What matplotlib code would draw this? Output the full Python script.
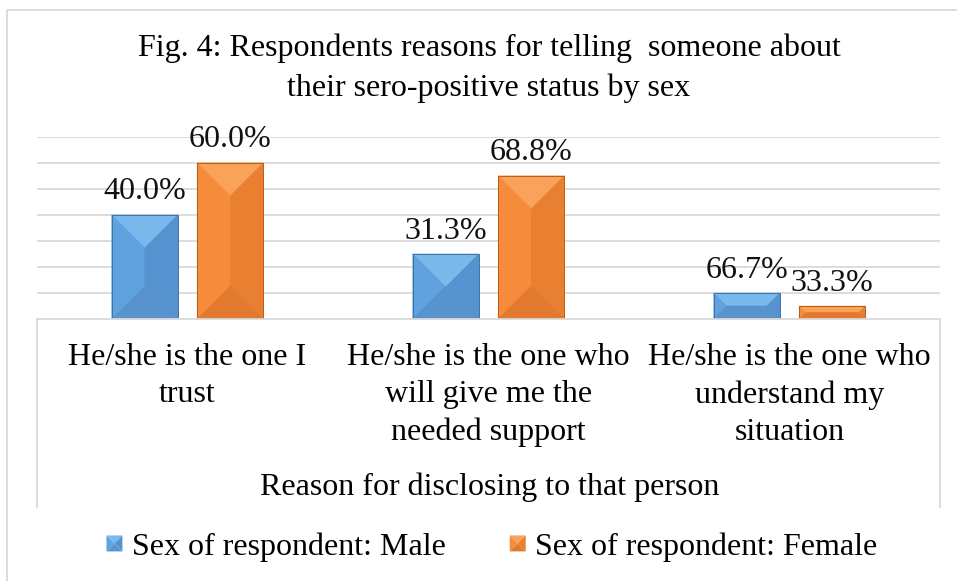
import matplotlib.pyplot as plt
import numpy as np
from decimal import Decimal, ROUND_HALF_UP
from matplotlib.patches import Polygon
from matplotlib.legend_handler import HandlerBase
from matplotlib.lines import Line2D

plt.rcParams['font.family'] = ['Liberation Serif', 'DejaVu Serif']

# respondents by reason (weighted counts)
reasons = ["He/she is the one I\ntrust",
           "He/she is the one who\nwill give me the\nneeded support",
           "He/she is the one who\nunderstand my\nsituation"]
male = [4, 2.5, 1]
female = [6, 5.5, 0.5]
series_names = ["Sex of respondent: Male", "Sex of respondent: Female"]

# face colours: top, left, right, bottom, edge
blue = ['#7ab9ec', '#5fa2df', '#5592d0', '#5893cd', '#40739f']
orange = ['#f8a25a', '#f68b3c', '#e97f31', '#e17a2f', '#b85e1e']


def pct_labels(a, b):
    out_a, out_b = [], []
    for x, y in zip(a, b):
        tot = x + y
        for v, out in ((x, out_a), (y, out_b)):
            p = Decimal(str(v * 100 / tot)).quantize(Decimal('0.1'), rounding=ROUND_HALF_UP)
            out.append(f"{p}%")
    return out_a, out_b


def bevel_faces(l, r, b, t):
    # hip-roof style split of a rectangle (pixel coords)
    w, h = r - l, t - b
    cx, cy = (l + r) / 2, (b + t) / 2
    TL, TR, BL, BR = (l, t), (r, t), (l, b), (r, b)
    if h >= w:
        p1, p2 = (cx, t - w / 2), (cx, b + w / 2)
        top = [TL, TR, p1]
        bot = [BL, BR, p2]
        left = [TL, p1, p2, BL]
        right = [TR, p1, p2, BR]
    else:
        p1, p2 = (l + h / 2, cy), (r - h / 2, cy)
        top = [TL, TR, p2, p1]
        bot = [BL, BR, p2, p1]
        left = [TL, p1, BL]
        right = [TR, p2, BR]
    return [top, left, right, bot]


def draw_bevel(ax, bars, cols):
    to_px = ax.transData
    to_data = ax.transData.inverted()
    for bar in bars:
        x0, y0 = bar.get_x(), bar.get_y()
        x1, y1 = x0 + bar.get_width(), y0 + bar.get_height()
        (l, b), (r, t) = to_px.transform([(x0, y0), (x1, y1)])
        for face, c in zip(bevel_faces(l, r, b, t), cols[:4]):
            pts = to_data.transform(face)
            ax.add_patch(Polygon(pts, closed=True, facecolor=c, edgecolor=c,
                                 linewidth=0.3, zorder=3))
        ax.add_patch(plt.Rectangle((x0, y0), x1 - x0, y1 - y0, fill=False,
                                   edgecolor=cols[4], linewidth=0.7, zorder=4))


class BevelHandler(HandlerBase):
    def __init__(self, cols):
        super().__init__()
        self.cols = cols

    def create_artists(self, legend, orig_handle, xdescent, ydescent, width, height, fontsize, trans):
        s = min(width, height)
        l = -xdescent + (width - s) / 2
        b = -ydescent + (height - s) / 2
        arts = []
        for face, c in zip(bevel_faces(l, l + s, b, b + s), self.cols[:4]):
            p = Polygon(face, closed=True, facecolor=c, edgecolor='none', transform=trans)
            arts.append(p)
        return arts


fig = plt.figure(figsize=(9.57, 5.81), dpi=100)
W, H = 957, 581
ax = fig.add_axes([37 / W, 1 - 319 / H, (940 - 37) / W, (319 - 136.7) / H])

x = np.arange(len(reasons))
bw = 0.22
off = 0.142
ax.set_xlim(-0.5, 2.5)
ax.set_ylim(0, 7)

bars_m = ax.bar(x - off, male, bw, color=blue[1], zorder=2)
bars_f = ax.bar(x + off, female, bw, color=orange[1], zorder=2)
draw_bevel(ax, bars_m, blue)
draw_bevel(ax, bars_f, orange)

lab_m, lab_f = pct_labels(male, female)
for bars, labs in ((bars_m, lab_m), (bars_f, lab_f)):
    for bar, txt in zip(bars, labs):
        ax.annotate(txt, (bar.get_x() + bar.get_width() / 2, bar.get_height()),
                    xytext=(0, 6), textcoords='offset points',
                    ha='center', va='bottom', fontsize=23, color='#111111')

# gridlines
ax.set_yticks(np.arange(1, 8))
ax.yaxis.grid(True, color='#d9d9d9', linewidth=1.3)
ax.set_axisbelow(True)
ax.tick_params(axis='y', left=False, labelleft=False)
for s in ['top', 'right', 'left', 'bottom']:
    ax.spines[s].set_visible(False)

ax.set_xticks(x)
ax.set_xticklabels(reasons, fontsize=23, linespacing=1.38)
ax.tick_params(axis='x', length=0, pad=17)

# box under the category axis
for xs, ys in (([37, 940], [319, 319]), ([37, 37], [319, 507]), ([940, 940], [319, 507])):
    fig.add_artist(Line2D([v / W for v in xs], [1 - v / H for v in ys],
                          color='#d9d9d9', linewidth=1.3))
# outer chart border
fig.add_artist(Line2D([7 / W, 7 / W, 1], [0, 1 - 10 / H, 1 - 10 / H],
                      color='#d9d9d9', linewidth=1.3))

fig.text(489 / W, 1 - 48 / H, "Fig. 4: Respondents reasons for telling  someone about",
         ha='center', va='center', fontsize=23)
fig.text(489 / W, 1 - 88 / H, "their sero-positive status by sex",
         ha='center', va='center', fontsize=23)
fig.text(490 / W, 1 - 487 / H, "Reason for disclosing to that person",
         ha='center', va='center', fontsize=23)

h_m = plt.Rectangle((0, 0), 1, 1)
h_f = plt.Rectangle((0, 0), 1, 1)
fig.legend([h_m, h_f], series_names, loc='center', bbox_to_anchor=(492 / W, 1 - 547 / H),
           ncol=2, frameon=False, fontsize=23, handlelength=0.5, handleheight=0.5,
           handletextpad=0.3, columnspacing=2.0,
           handler_map={h_m: BevelHandler(blue), h_f: BevelHandler(orange)})

fig.savefig('out.png', dpi=100)
